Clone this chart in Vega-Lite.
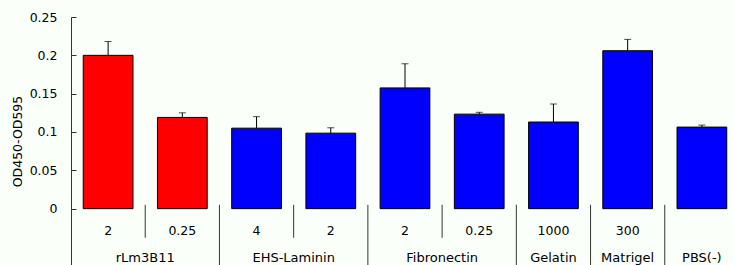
{
  "$schema": "https://vega.github.io/schema/vega-lite/v6.json",
  "width": 662,
  "height": 248,
  "autosize": {"type": "none"},
  "padding": {"left": 71, "top": 17, "right": 0, "bottom": 0},
  "background": "#FAFFFA",
  "config": {"view": {"stroke": null}, "font": "DejaVu Sans"},
  "datasets": {
    "bars": [
      {"bar": 1, "group": "rLm3B11", "conc": "2", "od": 0.200, "upper": 0.218, "series": "rLm3B11"},
      {"bar": 2, "group": "rLm3B11", "conc": "0.25", "od": 0.119, "upper": 0.125, "series": "rLm3B11"},
      {"bar": 3, "group": "EHS-Laminin", "conc": "4", "od": 0.105, "upper": 0.120, "series": "other"},
      {"bar": 4, "group": "EHS-Laminin", "conc": "2", "od": 0.0985, "upper": 0.1055, "series": "other"},
      {"bar": 5, "group": "Fibronectin", "conc": "2", "od": 0.1575, "upper": 0.189, "series": "other"},
      {"bar": 6, "group": "Fibronectin", "conc": "0.25", "od": 0.1233, "upper": 0.1257, "series": "other"},
      {"bar": 7, "group": "Gelatin", "conc": "1000", "od": 0.113, "upper": 0.1365, "series": "other"},
      {"bar": 8, "group": "Matrigel", "conc": "300", "od": 0.206, "upper": 0.2208, "series": "other"},
      {"bar": 9, "group": "PBS(-)", "conc": "", "od": 0.1064, "upper": 0.109, "series": "other"}
    ],
    "separators": [
      {"bar": 2, "length": "short"},
      {"bar": 3, "length": "long"},
      {"bar": 4, "length": "short"},
      {"bar": 5, "length": "long"},
      {"bar": 6, "length": "short"},
      {"bar": 7, "length": "long"},
      {"bar": 8, "length": "long"},
      {"bar": 9, "length": "long"}
    ],
    "groups": [
      {"bar": 2, "label": "rLm3B11", "span": "double"},
      {"bar": 4, "label": "EHS-Laminin", "span": "double"},
      {"bar": 6, "label": "Fibronectin", "span": "double"},
      {"bar": 7, "label": "Gelatin", "span": "single"},
      {"bar": 8, "label": "Matrigel", "span": "single"},
      {"bar": 9, "label": "PBS(-)", "span": "single"}
    ]
  },
  "layer": [
    {
      "data": {"name": "bars"},
      "mark": {"type": "bar", "width": {"band": 0.67}, "stroke": "#000000", "strokeWidth": 1},
      "encoding": {
        "x": {
          "field": "bar", "type": "ordinal",
          "scale": {"domain": [1, 2, 3, 4, 5, 6, 7, 8, 9], "range": [0, 668], "paddingInner": 0, "paddingOuter": 0},
          "axis": null
        },
        "y": {
          "field": "od", "type": "quantitative",
          "scale": {"domain": [-0.0735, 0.25], "nice": false, "zero": false},
          "axis": {
            "values": [0, 0.05, 0.1, 0.15, 0.2, 0.25],
            "format": "~g",
            "grid": false,
            "domainColor": "#333333",
            "tickColor": "#333333",
            "tickSize": -5,
            "labelPadding": 19,
            "labelFontSize": 12.5,
            "labelColor": "#000000",
            "title": "OD450-OD595",
            "titleFontSize": 12.5,
            "titleFontWeight": "normal",
            "titleColor": "#000000",
            "titlePadding": 5
          }
        },
        "y2": {"datum": 0},
        "color": {
          "field": "series", "type": "nominal",
          "scale": {"domain": ["rLm3B11", "other"], "range": ["#FF0000", "#0000FF"]},
          "legend": null
        }
      }
    },
    {
      "data": {"name": "bars"},
      "mark": {"type": "rule", "color": "#000000", "strokeWidth": 1},
      "encoding": {
        "x": {"field": "bar", "type": "ordinal"},
        "y": {"field": "od", "type": "quantitative"},
        "y2": {"field": "upper"}
      }
    },
    {
      "data": {"name": "bars"},
      "mark": {"type": "tick", "color": "#000000", "thickness": 1, "size": 7, "orient": "horizontal"},
      "encoding": {
        "x": {"field": "bar", "type": "ordinal"},
        "y": {"field": "upper", "type": "quantitative"}
      }
    },
    {
      "mark": {"type": "rule", "color": "#888888", "strokeWidth": 2},
      "encoding": {"y": {"datum": 0}}
    },
    {
      "data": {"name": "separators"},
      "transform": [{"filter": "datum.length === 'short'"}],
      "mark": {"type": "rule", "color": "#333333", "strokeWidth": 1},
      "encoding": {
        "x": {"field": "bar", "type": "ordinal", "bandPosition": 0},
        "y": {"datum": 0.005},
        "y2": {"datum": -0.038}
      }
    },
    {
      "data": {"name": "separators"},
      "transform": [{"filter": "datum.length === 'long'"}],
      "mark": {"type": "rule", "color": "#333333", "strokeWidth": 1},
      "encoding": {
        "x": {"field": "bar", "type": "ordinal", "bandPosition": 0},
        "y": {"datum": 0.005},
        "y2": {"datum": -0.0735}
      }
    },
    {
      "data": {"name": "bars"},
      "transform": [{"filter": "datum.conc !== ''"}],
      "mark": {"type": "text", "fontSize": 12.5, "color": "#000000", "baseline": "middle", "align": "center"},
      "encoding": {
        "x": {"field": "bar", "type": "ordinal"},
        "y": {"datum": -0.029},
        "text": {"field": "conc"}
      }
    },
    {
      "data": {"name": "groups"},
      "transform": [{"filter": "datum.span === 'double'"}],
      "mark": {"type": "text", "fontSize": 13, "color": "#000000", "baseline": "middle", "align": "center"},
      "encoding": {
        "x": {"field": "bar", "type": "ordinal", "bandPosition": 0},
        "y": {"datum": -0.0645},
        "text": {"field": "label"}
      }
    },
    {
      "data": {"name": "groups"},
      "transform": [{"filter": "datum.span === 'single'"}],
      "mark": {"type": "text", "fontSize": 13, "color": "#000000", "baseline": "middle", "align": "center"},
      "encoding": {
        "x": {"field": "bar", "type": "ordinal"},
        "y": {"datum": -0.0645},
        "text": {"field": "label"}
      }
    }
  ]
}
